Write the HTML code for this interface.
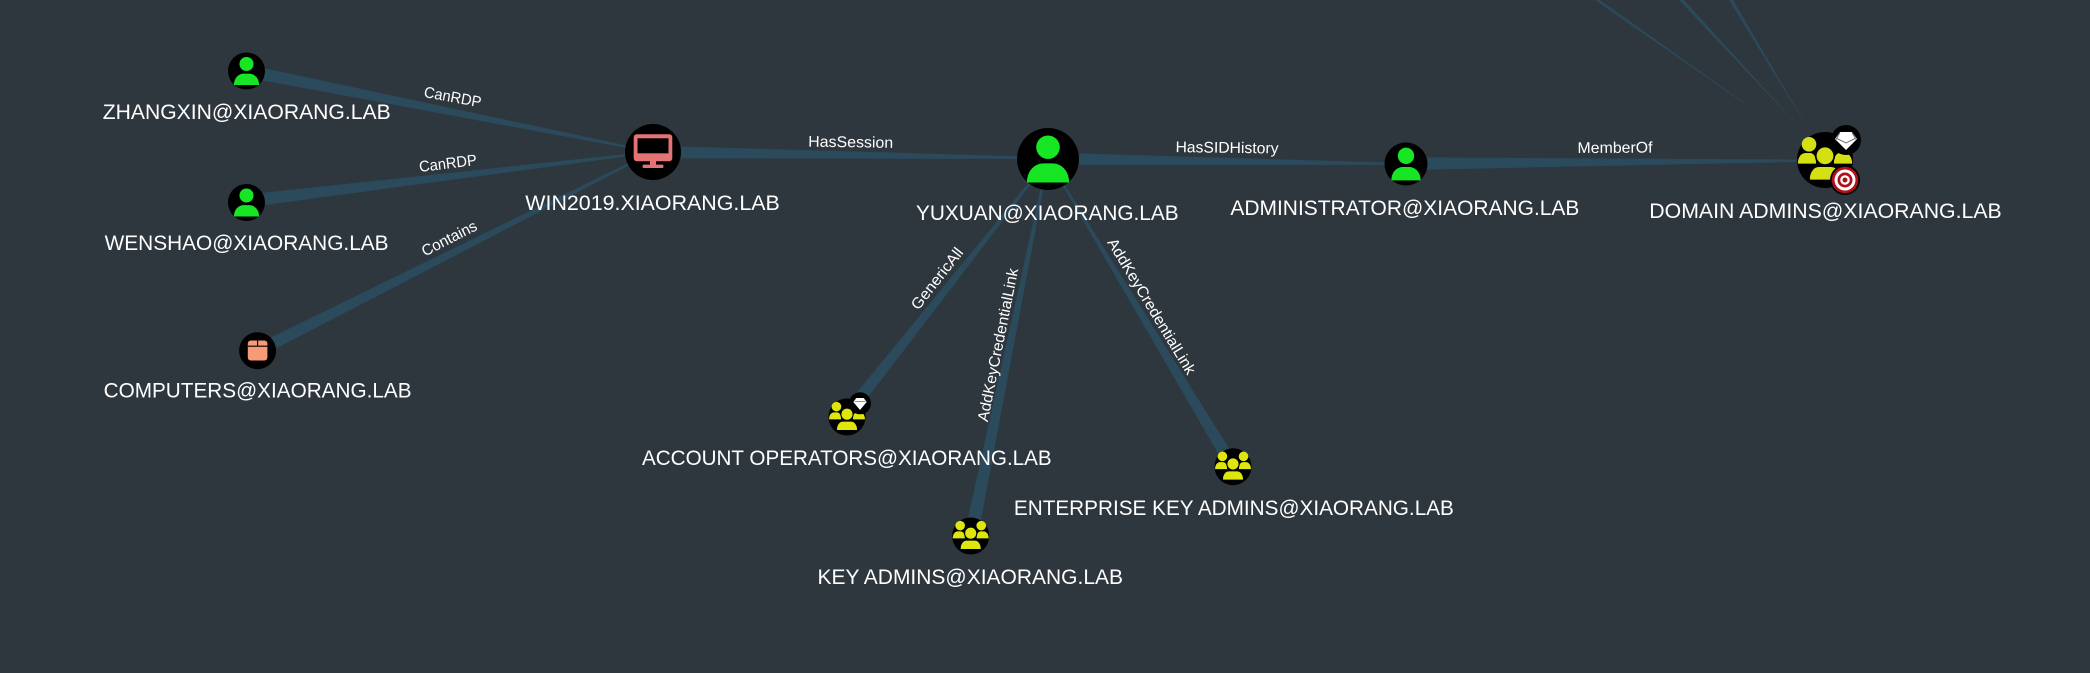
<!DOCTYPE html>
<html>
<head>
<meta charset="utf-8">
<title>Attack path graph</title>
<style>
html,body{margin:0;padding:0;background:#2e363e;width:2090px;height:673px;overflow:hidden}
svg{display:block;filter:blur(0.35px)}
.n{font-family:"Liberation Sans",sans-serif;font-size:21.5px;fill:#fff}
.e{font-family:"Liberation Sans",sans-serif;font-size:15.5px;fill:#fff;text-anchor:middle;dominant-baseline:central}
.l{fill:#2b4a5b;stroke:#2b4a5b;stroke-width:.8;stroke-linejoin:round}
.t{fill:#2b4a5b}
</style>
</head>
<body>
<svg width="2090" height="673" viewBox="0 0 2090 673" xmlns="http://www.w3.org/2000/svg">
<defs>
<g id="user">
<circle cx="0" cy="-38" r="38"/>
<path d="M-68 76C-68 35-40 14-15 14L15 14C40 14 68 35 68 76Z"/>
</g>
<g id="group">
<circle cx="-57" cy="-56" r="26"/>
<path d="M-97 13C-97-10-85-25-70-25L-55-25C-42-25-32-15-32 13Z"/>
<circle cx="57" cy="-56" r="26"/>
<path d="M97 13C97-10 85-25 70-25L55-25C42-25 32-15 32 13Z"/>
<circle cx="0" cy="-15" r="33" stroke="#000" stroke-width="6"/>
<path d="M-57 68C-57 40-40 22-22 22L22 22C40 22 57 40 57 68Q57 73 52 73L-52 73Q-57 73-57 68Z" stroke="#000" stroke-width="6"/>
</g>
</defs>

<!-- connectors -->
<polygon class="l" points="245.4,76.9 247.6,65 653,151.5 653,152.5"/>
<polygon class="l" points="247.3,207 245.9,195 653,151.5 653,152.5"/>
<polygon class="l" points="260.4,356.3 255,345.6 652.8,151.5 653.2,152.5"/>
<polygon class="l" points="653,146 653,158 1048,158.5 1048,157.5"/>
<polygon class="l" points="1048,152.8 1048,164.8 1406,164.5 1406,163.5"/>
<polygon class="l" points="1406,157.7 1406,169.7 1825,161 1825,160"/>
<polygon class="l" points="849.7,420.7 840.3,413.3 1048.6,158.7 1049.4,159.3"/>
<polygon class="l" points="977.4,537.3 964.6,534.7 1047.5,158.9 1048.5,159.1"/>
<polygon class="l" points="1238.1,463.6 1227.9,469.8 1047.6,158.7 1048.4,159.3"/>
<polygon class="t" points="1595,0 1600,0 1825,160.5 1825,159.5"/>
<polygon class="t" points="1679,0 1684,0 1825,155.5 1825,154.5"/>
<polygon class="t" points="1729,0 1733,0 1825,157.5 1825,156.5"/>

<!-- connector labels -->
<text class="e" transform="translate(452.6,97.7) rotate(10.5)" textLength="58" lengthAdjust="spacingAndGlyphs">CanRDP</text>
<text class="e" transform="translate(448,164) rotate(-7)" textLength="58" lengthAdjust="spacingAndGlyphs">CanRDP</text>
<text class="e" transform="translate(449.5,239) rotate(-27)" textLength="60" lengthAdjust="spacingAndGlyphs">Contains</text>
<text class="e" transform="translate(850.7,142.7) rotate(0.85)" textLength="85" lengthAdjust="spacingAndGlyphs">HasSession</text>
<text class="e" transform="translate(1227,148.3) rotate(0.75)" textLength="103" lengthAdjust="spacingAndGlyphs">HasSIDHistory</text>
<text class="e" transform="translate(1615,148.3) rotate(-0.4)" textLength="75" lengthAdjust="spacingAndGlyphs">MemberOf</text>
<text class="e" transform="translate(937.6,279) rotate(-51.8)" textLength="74" lengthAdjust="spacingAndGlyphs">GenericAll</text>
<text class="e" transform="translate(998.6,345) rotate(-78.7)" textLength="156" lengthAdjust="spacingAndGlyphs">AddKeyCredentialLink</text>
<text class="e" transform="translate(1151,306.7) rotate(58.9)" textLength="156" lengthAdjust="spacingAndGlyphs">AddKeyCredentialLink</text>

<!-- users -->
<circle cx="246.5" cy="71" r="18.5" fill="#000"/>
<use href="#user" fill="#17e625" transform="translate(246.5,71) scale(.185)"/>
<circle cx="246.5" cy="202.5" r="18.5" fill="#000"/>
<use href="#user" fill="#17e625" transform="translate(246.5,202.5) scale(.185)"/>
<circle cx="1048" cy="159" r="31" fill="#000"/>
<use href="#user" fill="#17e625" transform="translate(1048,159) scale(.31)"/>
<circle cx="1406" cy="164" r="21.5" fill="#000"/>
<use href="#user" fill="#17e625" transform="translate(1406,164) scale(.215)"/>

<!-- computers OU -->
<circle cx="257.6" cy="350.7" r="18.5" fill="#000"/>
<rect x="247.8" y="340.5" width="19.6" height="20" rx="3" fill="#f79a78"/>
<path d="M247.8 346.2H267.4M257.6 340.5V346.2" stroke="#000" stroke-width="1.1" fill="none"/>

<!-- computer -->
<circle cx="653" cy="152" r="28" fill="#000"/>
<rect x="633.7" y="134.3" width="38.6" height="27" rx="3" fill="#e57373"/>
<rect x="637.5" y="138.3" width="31" height="15" fill="#000"/>
<rect x="650" y="160" width="6" height="5" fill="#e57373"/>
<rect x="642.6" y="164.6" width="20.8" height="3.4" rx="1" fill="#e57373"/>

<!-- groups -->
<circle cx="847" cy="417" r="18.5" fill="#000"/>
<use href="#group" fill="#dfe60e" transform="translate(847,417) scale(.185)"/>
<circle cx="860" cy="403.3" r="11" fill="#000"/>
<path d="M853.3 402L856.3 398H863.7L866.7 402L860 410Z" fill="#fff"/>
<path d="M854.5 401.6H865.5" stroke="#777" stroke-width=".8"/>

<circle cx="970.7" cy="536" r="18.5" fill="#000"/>
<use href="#group" fill="#dfe60e" transform="translate(970.7,536) scale(.185)"/>
<circle cx="1233" cy="466.7" r="18.5" fill="#000"/>
<use href="#group" fill="#dfe60e" transform="translate(1233,466.7) scale(.185)"/>

<circle cx="1825" cy="160" r="28" fill="#000"/>
<use href="#group" fill="#d5e012" transform="translate(1825,160) scale(.28)"/>
<circle cx="1846" cy="140" r="15" fill="#000"/>
<path d="M1835 139L1840 132H1852L1857 139L1846 150Z" fill="#fff"/>
<path d="M1837 138.5L1846 143L1855 138.5M1836 139.5L1840 132.5M1856 139.5L1852 132.5" stroke="#777" stroke-width="1" fill="none"/>
<circle cx="1845" cy="180" r="15" fill="#000"/>
<circle cx="1845" cy="180" r="13.3" fill="#b0101a"/>
<circle cx="1845" cy="180" r="10.5" fill="#fff"/>
<circle cx="1845" cy="180" r="7.5" fill="#b0101a"/>
<circle cx="1845" cy="180" r="4.8" fill="#fff"/>
<circle cx="1845" cy="180" r="2.5" fill="#b0101a"/>

<!-- node labels -->
<text class="n" x="102.7" y="119" textLength="288" lengthAdjust="spacingAndGlyphs">ZHANGXIN@XIAORANG.LAB</text>
<text class="n" x="104.6" y="250" textLength="284" lengthAdjust="spacingAndGlyphs">WENSHAO@XIAORANG.LAB</text>
<text class="n" x="103.6" y="397.7" textLength="308" lengthAdjust="spacingAndGlyphs">COMPUTERS@XIAORANG.LAB</text>
<text class="n" x="525.3" y="210" textLength="254.5" lengthAdjust="spacingAndGlyphs">WIN2019.XIAORANG.LAB</text>
<text class="n" x="916" y="220" textLength="262.6" lengthAdjust="spacingAndGlyphs">YUXUAN@XIAORANG.LAB</text>
<text class="n" x="1230.4" y="215" textLength="349" lengthAdjust="spacingAndGlyphs">ADMINISTRATOR@XIAORANG.LAB</text>
<text class="n" x="1649.3" y="218" textLength="352.4" lengthAdjust="spacingAndGlyphs">DOMAIN ADMINS@XIAORANG.LAB</text>
<text class="n" x="642" y="465" textLength="409.7" lengthAdjust="spacingAndGlyphs">ACCOUNT OPERATORS@XIAORANG.LAB</text>
<text class="n" x="1013.9" y="515" textLength="440" lengthAdjust="spacingAndGlyphs">ENTERPRISE KEY ADMINS@XIAORANG.LAB</text>
<text class="n" x="817.5" y="584" textLength="305.5" lengthAdjust="spacingAndGlyphs">KEY ADMINS@XIAORANG.LAB</text>
</svg>
</body>
</html>
